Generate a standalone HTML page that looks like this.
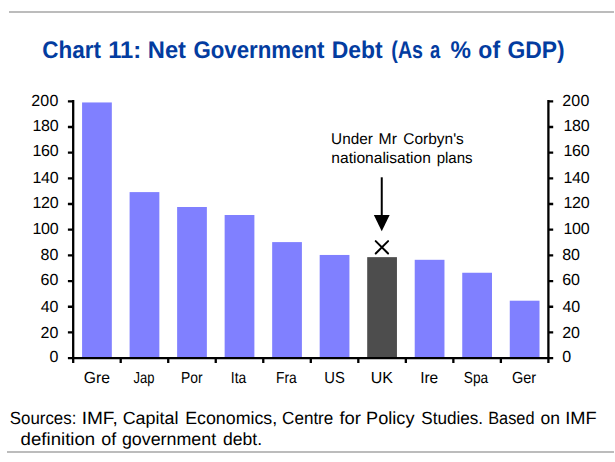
<!DOCTYPE html>
<html><head><meta charset="utf-8"><title>Chart 11: Net Government Debt</title>
<style>
html,body{margin:0;padding:0;background:#fff;width:615px;height:462px;overflow:hidden}
svg{display:block}
text{font-family:"Liberation Sans",Arial,sans-serif;fill:#000;text-rendering:geometricPrecision}
</style></head>
<body>
<svg width="615" height="462" viewBox="0 0 615 462">
<rect x="9" y="11" width="605" height="2" fill="#bcbcbc"/>
<rect x="7" y="451" width="607" height="2" fill="#bcbcbc"/>
<rect x="82.08" y="102.45" width="29.75" height="255.60" fill="#8080ff"/>
<rect x="129.60" y="192.10" width="29.75" height="165.95" fill="#8080ff"/>
<rect x="177.12" y="207.00" width="29.75" height="151.05" fill="#8080ff"/>
<rect x="224.64" y="215.00" width="29.75" height="143.05" fill="#8080ff"/>
<rect x="272.16" y="242.10" width="29.75" height="115.95" fill="#8080ff"/>
<rect x="319.68" y="254.96" width="29.75" height="103.09" fill="#8080ff"/>
<rect x="367.20" y="257.15" width="29.75" height="100.90" fill="#4d4d4d"/>
<rect x="414.72" y="259.80" width="29.75" height="98.25" fill="#8080ff"/>
<rect x="462.24" y="272.75" width="29.75" height="85.30" fill="#8080ff"/>
<rect x="509.76" y="300.70" width="29.75" height="57.35" fill="#8080ff"/>
<path d="M73.19 99.90 V362.90 M548.40 99.90 V362.90 M67.90 358.05 H553.20 M67.90 101.30 H73.19 M548.40 101.30 H553.20 M67.90 126.98 H73.19 M548.40 126.98 H553.20 M67.90 152.66 H73.19 M548.40 152.66 H553.20 M67.90 178.34 H73.19 M548.40 178.34 H553.20 M67.90 204.02 H73.19 M548.40 204.02 H553.20 M67.90 229.70 H73.19 M548.40 229.70 H553.20 M67.90 255.38 H73.19 M548.40 255.38 H553.20 M67.90 281.06 H73.19 M548.40 281.06 H553.20 M67.90 306.74 H73.19 M548.40 306.74 H553.20 M67.90 332.42 H73.19 M548.40 332.42 H553.20 M120.71 358.05 V362.90 M168.23 358.05 V362.90 M215.75 358.05 V362.90 M263.27 358.05 V362.90 M310.80 358.05 V362.90 M358.32 358.05 V362.90 M405.84 358.05 V362.90 M453.36 358.05 V362.90 M500.88 358.05 V362.90" stroke="#000" stroke-width="2.3" fill="none"/>
<path d="M381.75 177.3 V217" stroke="#000" stroke-width="2"/>
<path d="M373.85 215 H389.65 L381.75 231.3 Z" fill="#000"/>
<path d="M375.7 241.10000000000002 L388.09999999999997 253.5 M388.09999999999997 241.10000000000002 L375.7 253.5" stroke="#000" stroke-width="2.0" stroke-linecap="round"/>
<text x="42.25" y="57.80" textLength="58.71" lengthAdjust="spacingAndGlyphs" style="font-size:24px;font-weight:bold;fill:#033ca0">Chart</text>
<text x="108.14" y="57.80" textLength="32.97" lengthAdjust="spacingAndGlyphs" style="font-size:24px;font-weight:bold;fill:#033ca0">11:</text>
<text x="147.83" y="57.80" textLength="38.17" lengthAdjust="spacingAndGlyphs" style="font-size:24px;font-weight:bold;fill:#033ca0">Net</text>
<text x="193.46" y="57.80" textLength="131.09" lengthAdjust="spacingAndGlyphs" style="font-size:24px;font-weight:bold;fill:#033ca0">Government</text>
<text x="331.77" y="57.80" textLength="50.97" lengthAdjust="spacingAndGlyphs" style="font-size:24px;font-weight:bold;fill:#033ca0">Debt</text>
<text x="391.35" y="57.80" textLength="31.64" lengthAdjust="spacingAndGlyphs" style="font-size:24px;font-weight:bold;fill:#033ca0">(As</text>
<text x="429.91" y="57.80" textLength="10.22" lengthAdjust="spacingAndGlyphs" style="font-size:24px;font-weight:bold;fill:#033ca0">a</text>
<text x="450.50" y="57.80" textLength="20.44" lengthAdjust="spacingAndGlyphs" style="font-size:24px;font-weight:bold;fill:#033ca0">%</text>
<text x="478.37" y="57.80" textLength="21.69" lengthAdjust="spacingAndGlyphs" style="font-size:24px;font-weight:bold;fill:#033ca0">of</text>
<text x="507.49" y="57.80" textLength="57.17" lengthAdjust="spacingAndGlyphs" style="font-size:24px;font-weight:bold;fill:#033ca0">GDP)</text>
<text x="331.09" y="144.00" textLength="41.78" lengthAdjust="spacingAndGlyphs" style="font-size:15.5px">Under</text>
<text x="378.61" y="144.00" textLength="18.38" lengthAdjust="spacingAndGlyphs" style="font-size:15.5px">Mr</text>
<text x="403.35" y="144.00" textLength="60.49" lengthAdjust="spacingAndGlyphs" style="font-size:15.5px">Corbyn's</text>
<text x="331.34" y="163.00" textLength="99.51" lengthAdjust="spacingAndGlyphs" style="font-size:15.5px">nationalisation</text>
<text x="436.65" y="163.00" textLength="35.99" lengthAdjust="spacingAndGlyphs" style="font-size:15.5px">plans</text>
<text x="9.83" y="424.00" textLength="66.51" lengthAdjust="spacingAndGlyphs" style="font-size:17.7px">Sources:</text>
<text x="81.67" y="424.00" textLength="36.05" lengthAdjust="spacingAndGlyphs" style="font-size:17.7px">IMF,</text>
<text x="122.66" y="424.00" textLength="55.77" lengthAdjust="spacingAndGlyphs" style="font-size:17.7px">Capital</text>
<text x="185.19" y="424.00" textLength="92.04" lengthAdjust="spacingAndGlyphs" style="font-size:17.7px">Economics,</text>
<text x="282.07" y="424.00" textLength="51.24" lengthAdjust="spacingAndGlyphs" style="font-size:17.7px">Centre</text>
<text x="339.40" y="424.00" textLength="21.51" lengthAdjust="spacingAndGlyphs" style="font-size:17.7px">for</text>
<text x="366.04" y="424.00" textLength="48.46" lengthAdjust="spacingAndGlyphs" style="font-size:17.7px">Policy</text>
<text x="421.29" y="424.00" textLength="61.78" lengthAdjust="spacingAndGlyphs" style="font-size:17.7px">Studies.</text>
<text x="488.24" y="424.00" textLength="46.28" lengthAdjust="spacingAndGlyphs" style="font-size:17.7px">Based</text>
<text x="540.56" y="424.00" textLength="19.50" lengthAdjust="spacingAndGlyphs" style="font-size:17.7px">on</text>
<text x="565.17" y="424.00" textLength="31.39" lengthAdjust="spacingAndGlyphs" style="font-size:17.7px">IMF</text>
<text x="20.60" y="445.00" textLength="74.58" lengthAdjust="spacingAndGlyphs" style="font-size:17.7px">definition</text>
<text x="101.36" y="445.00" textLength="14.96" lengthAdjust="spacingAndGlyphs" style="font-size:17.7px">of</text>
<text x="121.95" y="445.00" textLength="94.19" lengthAdjust="spacingAndGlyphs" style="font-size:17.7px">government</text>
<text x="223.00" y="445.00" textLength="39.07" lengthAdjust="spacingAndGlyphs" style="font-size:17.7px">debt.</text>
<text x="31.20" y="105.93" textLength="27.19" lengthAdjust="spacing" style="font-size:16px">200</text>
<text x="562.20" y="105.93" textLength="27.19" lengthAdjust="spacing" style="font-size:16px">200</text>
<text x="32.38" y="131.09" textLength="26.17" lengthAdjust="spacing" style="font-size:16px">180</text>
<text x="563.38" y="131.09" textLength="26.17" lengthAdjust="spacing" style="font-size:16px">180</text>
<text x="32.38" y="156.46" textLength="26.17" lengthAdjust="spacing" style="font-size:16px">160</text>
<text x="563.38" y="156.46" textLength="26.17" lengthAdjust="spacing" style="font-size:16px">160</text>
<text x="32.38" y="183.47" textLength="26.17" lengthAdjust="spacing" style="font-size:16px">140</text>
<text x="563.38" y="183.47" textLength="26.17" lengthAdjust="spacing" style="font-size:16px">140</text>
<text x="32.38" y="208.15" textLength="26.17" lengthAdjust="spacing" style="font-size:16px">120</text>
<text x="563.38" y="208.15" textLength="26.17" lengthAdjust="spacing" style="font-size:16px">120</text>
<text x="32.38" y="234.33" textLength="26.17" lengthAdjust="spacing" style="font-size:16px">100</text>
<text x="563.38" y="234.33" textLength="26.17" lengthAdjust="spacing" style="font-size:16px">100</text>
<text x="40.51" y="260.18" textLength="17.99" lengthAdjust="spacing" style="font-size:16px">80</text>
<text x="562.24" y="260.18" textLength="17.76" lengthAdjust="spacing" style="font-size:16px">80</text>
<text x="40.54" y="285.11" textLength="17.96" lengthAdjust="spacing" style="font-size:16px">60</text>
<text x="562.20" y="285.16" textLength="17.79" lengthAdjust="spacing" style="font-size:16px">60</text>
<text x="40.79" y="311.87" textLength="17.73" lengthAdjust="spacing" style="font-size:16px">40</text>
<text x="562.52" y="311.87" textLength="17.56" lengthAdjust="spacing" style="font-size:16px">40</text>
<text x="40.54" y="337.55" textLength="17.96" lengthAdjust="spacing" style="font-size:16px">20</text>
<text x="562.20" y="337.55" textLength="17.79" lengthAdjust="spacing" style="font-size:16px">20</text>
<text x="49.62" y="361.93" style="font-size:16px">0</text>
<text x="562.37" y="361.93" style="font-size:16px">0</text>
<text x="83.74" y="383.00" textLength="26.24" lengthAdjust="spacingAndGlyphs" style="font-size:16px">Gre</text>
<text x="133.55" y="383.00" textLength="20.91" lengthAdjust="spacingAndGlyphs" style="font-size:16px">Jap</text>
<text x="181.10" y="383.00" textLength="21.56" lengthAdjust="spacingAndGlyphs" style="font-size:16px">Por</text>
<text x="230.83" y="383.00" textLength="15.44" lengthAdjust="spacingAndGlyphs" style="font-size:16px">Ita</text>
<text x="276.05" y="383.00" textLength="20.67" lengthAdjust="spacingAndGlyphs" style="font-size:16px">Fra</text>
<text x="324.22" y="383.00" textLength="20.58" lengthAdjust="spacingAndGlyphs" style="font-size:16px">US</text>
<text x="370.66" y="383.00" textLength="22.18" lengthAdjust="spacingAndGlyphs" style="font-size:16px">UK</text>
<text x="420.17" y="383.00" textLength="18.08" lengthAdjust="spacingAndGlyphs" style="font-size:16px">Ire</text>
<text x="463.83" y="383.00" textLength="24.29" lengthAdjust="spacingAndGlyphs" style="font-size:16px">Spa</text>
<text x="512.00" y="383.00" textLength="24.16" lengthAdjust="spacingAndGlyphs" style="font-size:16px">Ger</text>
</svg>
</body></html>
